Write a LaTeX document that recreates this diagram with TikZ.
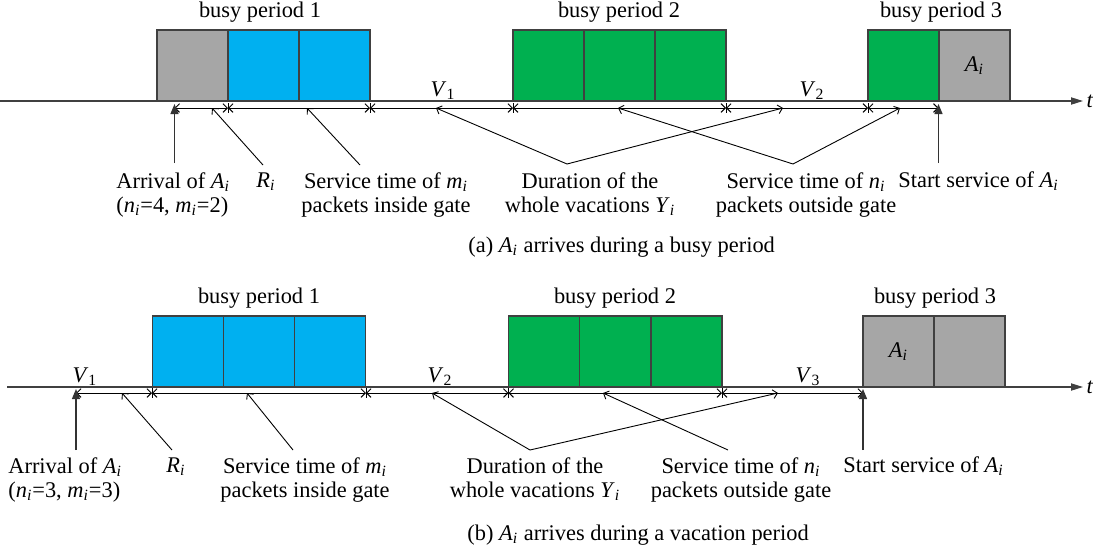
\documentclass[tikz,border=0pt]{standalone}
\usepackage{fontspec}
\setmainfont{Liberation Serif}
\usetikzlibrary{arrows.meta}
\newcommand\mv[2]{\textit{#1}\textsubscript{\textit{#2}}}
\definecolor{cblue}{HTML}{00B0F0}
\definecolor{cgreen}{HTML}{00B050}
\definecolor{cgray}{HTML}{A6A6A6}
\begin{document}
\begin{tikzpicture}[x=0.5pt,y=-0.5pt,
  font=\fontsize{11.2}{12}\selectfont,
  pkt/.style={draw=black!75, line width=0.6pt, minimum width=35.5pt, minimum height=35.5pt, inner sep=0pt, outer sep=0pt},
  axisline/.style={draw=black!75, line width=0.6pt, -{Triangle[length=6pt,width=3.6pt]}},
  seg/.style={draw, line width=0.45pt, {Straight Barb[length=2.2pt,width=4.4pt]}-{Straight Barb[length=2.2pt,width=4.4pt]}},
  tickmark/.style={draw, line width=0.45pt},
  leader/.style={draw, line width=0.45pt, -{Straight Barb[length=2.2pt,width=4.4pt]}},
  eventarrow/.style={draw=black!80, line width=0.6pt, -{Triangle[length=5pt,width=4pt]}},
  lbl/.style={inner sep=0pt, align=center, anchor=north},
  txt/.style={inner sep=0pt, anchor=base},
]
\useasboundingbox (0,0) rectangle (1093,553);

% ================= (a) =================
\coordinate (axA0) at (0,101);
\coordinate (axA1) at (1083,101);
\draw[axisline] (axA0) -- (axA1);
\node[txt] (tA) at (1090,107) {\textit{t}};

\node[pkt, fill=cgray]  (a1) at (192.5,65.5) {};
\node[pkt, fill=cblue]  (a2) at (263.5,65.5) {};
\node[pkt, fill=cblue]  (a3) at (334.5,65.5) {};
\node[pkt, fill=cgreen] (a4) at (548.5,65.5) {};
\node[pkt, fill=cgreen] (a5) at (619.5,65.5) {};
\node[pkt, fill=cgreen] (a6) at (690.5,65.5) {};
\node[pkt, fill=cgreen] (a7) at (903.5,65.5) {};
\node[pkt, fill=cgray]  (a8) at (974.5,65.5) {\mv{A}{i}};

\node[txt] (bpA1) at (260,17) {busy period 1};
\node[txt] (bpA2) at (619,17) {busy period 2};
\node[txt] (bpA3) at (941,17) {busy period 3};
\node[txt] (vA1) at (443,96) {\textit{V}\textsubscript{1}};
\node[txt] (vA2) at (812,96) {\textit{V}\textsubscript{2}};

% lower time line
\coordinate (pA0) at (174.5,108);
\coordinate (pA1) at (228,108);
\coordinate (pA2) at (370,108);
\coordinate (pA3) at (513,108);
\coordinate (pA4) at (726,108);
\coordinate (pA5) at (868,108);
\coordinate (pA6) at (938.5,108);
\draw[seg] (pA0) -- (pA1);
\draw[seg] (pA1) -- (pA2);
\draw[seg] (pA2) -- (pA3);
\draw[seg] (pA3) -- (pA4);
\draw[seg] (pA4) -- (pA5);
\draw[seg] (pA5) -- (pA6);
\foreach \x in {228,370,513,726,868} \draw[tickmark] (\x,103) -- (\x,113);

% labels
\node[lbl, anchor=north west, align=left] (arrA) at (116,172) {Arrival of \mv{A}{i}\\(\mv{n}{i}=4, \mv{m}{i}=2)};
\node[txt] (RA) at (266,187) {\mv{R}{i}};
\node[lbl] (mA) at (386,172) {Service time of \mv{m}{i}\\packets inside gate};
\node[lbl] (YA) at (590,172) {Duration of the\\whole vacations \mv{Y}{i}};
\node[lbl] (nA) at (806,172) {Service time of \mv{n}{i}\\packets outside gate};
\node[txt, anchor=base west] (sA) at (898,187) {Start service of \mv{A}{i}};
\node[txt, anchor=base west] (capA) at (468,252) {(a) \mv{A}{i} arrives during a busy period};

% leaders
\coordinate (arrAb) at (174.5,163);
\coordinate (arrAt) at (174.5,104);
\draw[eventarrow] (arrAb) -- (arrAt);
\coordinate (stAb) at (938.5,163);
\coordinate (stAt) at (938.5,104);
\draw[eventarrow] (stAb) -- (stAt);
\coordinate (RAl) at (263,165);  \coordinate (RAe) at (212,108);
\draw[leader] (RAl) -- (RAe);
\coordinate (mAl) at (360,165);  \coordinate (mAe) at (307,108);
\draw[leader] (mAl) -- (mAe);
\coordinate (YAl) at (567,164);
\coordinate (YAe1) at (436,108); \coordinate (YAe2) at (783,108);
\draw[leader] (YAl) -- (YAe1);
\draw[leader] (YAl) -- (YAe2);
\coordinate (nAl) at (793,164);
\coordinate (nAe1) at (618,108); \coordinate (nAe2) at (900,108);
\draw[leader] (nAl) -- (nAe1);
\draw[leader] (nAl) -- (nAe2);

% ================= (b) =================
\coordinate (axB0) at (7,387);
\coordinate (axB1) at (1083,387);
\draw[axisline] (axB0) -- (axB1);
\node[txt] (tB) at (1090,393) {\textit{t}};

\node[pkt, fill=cblue]  (b1) at (187.7,351.5) {};
\node[pkt, fill=cblue]  (b2) at (259,351.5) {};
\node[pkt, fill=cblue]  (b3) at (330.3,351.5) {};
\node[pkt, fill=cgreen] (b4) at (544.1,351.5) {};
\node[pkt, fill=cgreen] (b5) at (615.3,351.5) {};
\node[pkt, fill=cgreen] (b6) at (686.5,351.5) {};
\node[pkt, fill=cgray]  (b7) at (898.5,351.5) {\mv{A}{i}};
\node[pkt, fill=cgray]  (b8) at (969.5,351.5) {};

\node[txt] (bpB1) at (259,303) {busy period 1};
\node[txt] (bpB2) at (615,303) {busy period 2};
\node[txt] (bpB3) at (935,303) {busy period 3};
\node[txt] (vB1) at (85,382) {\textit{V}\textsubscript{1}};
\node[txt] (vB2) at (440,382) {\textit{V}\textsubscript{2}};
\node[txt] (vB3) at (808,382) {\textit{V}\textsubscript{3}};

\coordinate (pB0) at (76,393);
\coordinate (pB1) at (152,393);
\coordinate (pB2) at (366,393);
\coordinate (pB3) at (508.5,393);
\coordinate (pB4) at (722,393);
\coordinate (pB5) at (863,393);
\draw[seg] (pB0) -- (pB1);
\draw[seg] (pB1) -- (pB2);
\draw[seg] (pB2) -- (pB3);
\draw[seg] (pB3) -- (pB4);
\draw[seg] (pB4) -- (pB5);
\foreach \x in {152,366,508.5,722} \draw[tickmark] (\x,388) -- (\x,398);

\node[lbl, anchor=north west, align=left] (arrB) at (8,457) {Arrival of \mv{A}{i}\\(\mv{n}{i}=3, \mv{m}{i}=3)};
\node[txt] (RB) at (176,472) {\mv{R}{i}};
\node[lbl] (mB) at (305,457) {Service time of \mv{m}{i}\\packets inside gate};
\node[lbl] (YB) at (535,457) {Duration of the\\whole vacations \mv{Y}{i}};
\node[lbl] (nB) at (741,457) {Service time of \mv{n}{i}\\packets outside gate};
\node[txt, anchor=base west] (sB) at (843,472) {Start service of \mv{A}{i}};
\node[txt, anchor=base west] (capB) at (467,540) {(b) \mv{A}{i} arrives during a vacation period};

\coordinate (arrBb) at (76,450);
\coordinate (arrBt) at (76,389);
\draw[eventarrow] (arrBb) -- (arrBt);
\coordinate (stBb) at (863,450);
\coordinate (stBt) at (863,389);
\draw[eventarrow] (stBb) -- (stBt);
\coordinate (RBl) at (172,450);  \coordinate (RBe) at (122,393);
\draw[leader] (RBl) -- (RBe);
\coordinate (mBl) at (293,450);  \coordinate (mBe) at (247,393);
\draw[leader] (mBl) -- (mBe);
\coordinate (YBl) at (530,450);
\coordinate (YBe1) at (432,393); \coordinate (YBe2) at (778,393);
\draw[leader] (YBl) -- (YBe1);
\draw[leader] (YBl) -- (YBe2);
\coordinate (nBl) at (728,450);
\coordinate (nBe) at (603,393);
\draw[leader] (nBl) -- (nBe);
\end{tikzpicture}
\end{document}
